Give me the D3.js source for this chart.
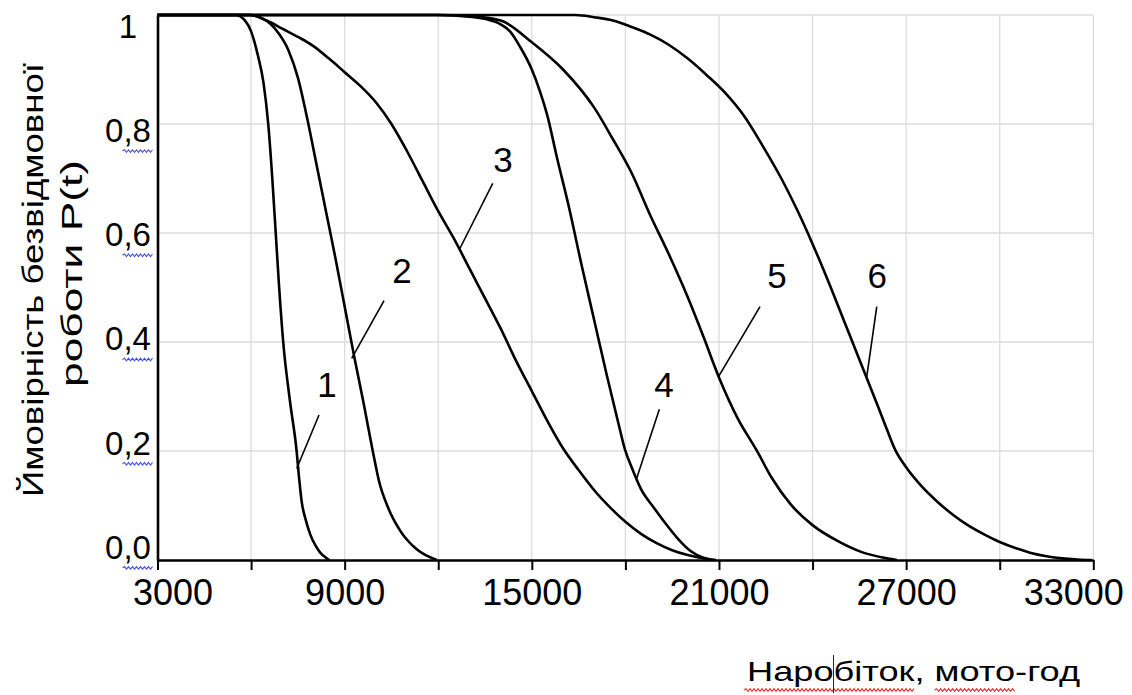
<!DOCTYPE html>
<html>
<head>
<meta charset="utf-8">
<script src="https://cdn.jsdelivr.net/npm/d3@7"></script>
<style>
  body { margin: 0; background: #fff; }
  text { font-family: "Liberation Sans", Arial, sans-serif; fill: #000; }
</style>
</head>
<body>
<div id="chart"></div>
<script>
// P(t) curves: [hours, probability]
const curve1 = [[3000,1],[5500,1],[5800,0.99],[6000,0.97],[6200,0.93],[6400,0.875],[6550,0.80],[6680,0.70],[6790,0.60],[6900,0.50],[7030,0.40],[7250,0.29],[7460,0.20],[7540,0.15],[7620,0.108],[7750,0.074],[7890,0.048],[8050,0.028],[8210,0.014],[8380,0.005],[8510,0]]
const curve2 = [[3000,1],[5950,1],[6300,0.995],[6600,0.985],[6900,0.965],[7200,0.935],[7500,0.885],[7800,0.81],[8100,0.725],[8400,0.64],[8700,0.555],[9000,0.465],[9300,0.375],[9600,0.29],[9900,0.2],[10100,0.145],[10400,0.095],[10800,0.052],[11300,0.02],[11950,0]]
const curve3 = [[3000,1],[6000,1],[6500,0.99],[7000,0.975],[7500,0.96],[8000,0.943],[8500,0.92],[9000,0.895],[9500,0.87],[10000,0.84],[10500,0.80],[11000,0.75],[11500,0.695],[12000,0.64],[12500,0.59],[13000,0.535],[13500,0.48],[14000,0.425],[14500,0.365],[15000,0.31],[15500,0.255],[16000,0.205],[16500,0.165],[17000,0.128],[17500,0.097],[18000,0.07],[18500,0.048],[19000,0.031],[19500,0.018],[20000,0.009],[20500,0.003],[20900,0]]
const curve4 = [[3000,1],[12000,1],[13000,0.997],[13500,0.993],[14000,0.983],[14300,0.97],[14620,0.942],[15000,0.9],[15260,0.86],[15500,0.815],[15800,0.74],[16200,0.645],[16600,0.54],[17000,0.44],[17400,0.34],[17800,0.245],[17990,0.202],[18200,0.17],[18500,0.13],[18900,0.097],[19300,0.066],[19700,0.038],[20100,0.016],[20500,0.004],[20750,0]]
const curve5 = [[3000,1],[12000,1],[13000,0.998],[14000,0.99],[15000,0.95],[16000,0.9],[17000,0.83],[17600,0.772],[18200,0.71],[18800,0.632],[19400,0.56],[20000,0.482],[20500,0.41],[21000,0.335],[21600,0.26],[22200,0.202],[22700,0.15],[23300,0.102],[24000,0.064],[24800,0.035],[25600,0.014],[26300,0.004],[26700,0]]
const curve6 = [[3000,1],[16400,1],[17000,0.996],[17600,0.99],[18200,0.978],[18800,0.964],[19400,0.945],[20000,0.92],[20600,0.89],[21200,0.857],[21800,0.815],[22400,0.76],[23000,0.7],[23500,0.643],[24000,0.58],[24500,0.512],[25000,0.44],[25500,0.368],[26000,0.296],[26300,0.252],[26650,0.202],[27000,0.17],[27500,0.135],[28000,0.107],[28500,0.083],[29000,0.063],[29500,0.047],[30000,0.033],[30500,0.022],[31000,0.013],[31500,0.007],[32000,0.003],[32500,0.001],[32950,0]]
const curves = [curve1, curve2, curve3, curve4, curve5, curve6]

// curve numbers with their leader lines (data units)
const curveNames = ["1", "2", "3", "4", "5", "6"]
const leaderFrom = [[7463,0.168],[9226,0.370],[12698,0.572],[18363,0.150],[20980,0.336],[25737,0.336]]
const leaderTo = [[8178,0.266],[10262,0.476],[13747,0.691],[19088,0.2765],[22316,0.465],[26058,0.465]]
const labelAt = [[8434,0.299],[10839,0.508],[14077,0.712],[19238,0.299],[22861,0.499],[26077,0.499]]

const xTicks = d3.range(3000, 33001, 3000)
const xLabelTicks = [3000, 9000, 15000, 21000, 27000, 33000]
const yTicks = [0, 0.2, 0.4, 0.6, 0.8, 1]
const yTickText = ["0,0", "0,2", "0,4", "0,6", "0,8", "1"]

const width = 1132
const height = 695

const x = d3.scaleLinear().domain([3000, 33000]).range([157.5, 1093.3])
const y = d3.scaleLinear().domain([0, 1]).range([560, 15])
// the value labels on the left sit on a slightly tighter spacing than the grid
const yLab = d3.scaleLinear().domain([0, 1]).range([547, 26])

const svg = d3.select("#chart").append("svg")
    .attr("width", width)
    .attr("height", height)

function wavy(x0, x1, yy) {
    let p = `M${x0},${yy}`
    let up = true
    for (let xx = x0 + 2; xx <= x1; xx += 2) {
        p += `L${xx},${yy + (up ? -1.3 : 1.3)}`
        up = !up
    }
    return p
}

// grid
svg.append("g")
    .selectAll("line")
    .data(xTicks.slice(1))
    .join("line")
    .attr("x1", d => x(d)).attr("x2", d => x(d))
    .attr("y1", y(0)).attr("y2", y(1))
    .attr("stroke", "#dcdcdc")
    .attr("stroke-width", 1.3)

svg.append("g")
    .selectAll("line")
    .data(yTicks.slice(1))
    .join("line")
    .attr("x1", x(3000)).attr("x2", x(33000))
    .attr("y1", d => y(d)).attr("y2", d => y(d))
    .attr("stroke", "#dcdcdc")
    .attr("stroke-width", 1.3)

// curves
const line = d3.line()
    .x(d => x(d[0]))
    .y(d => y(d[1]))
    .curve(d3.curveMonotoneX)

svg.append("g")
    .selectAll("path")
    .data(curves)
    .join("path")
    .attr("d", line)
    .attr("fill", "none")
    .attr("stroke", "#000")
    .attr("stroke-width", 2.6)
    .attr("stroke-linejoin", "round")

// leader lines and numbers
svg.append("g")
    .selectAll("line")
    .data(curveNames)
    .join("line")
    .attr("x1", (d, i) => x(leaderFrom[i][0]))
    .attr("y1", (d, i) => y(leaderFrom[i][1]))
    .attr("x2", (d, i) => x(leaderTo[i][0]))
    .attr("y2", (d, i) => y(leaderTo[i][1]))
    .attr("stroke", "#000")
    .attr("stroke-width", 1.6)

svg.append("g")
    .selectAll("text")
    .data(curveNames)
    .join("text")
    .attr("x", (d, i) => x(labelAt[i][0]))
    .attr("y", (d, i) => y(labelAt[i][1]))
    .attr("text-anchor", "middle")
    .attr("font-size", 35)
    .text(d => d)

// x axis
svg.append("g")
    .attr("transform", `translate(0,${y(0)})`)
    .call(d3.axisBottom(x).tickValues(xTicks).tickSize(10).tickSizeOuter(0)
        .tickFormat(d => xLabelTicks.includes(d) ? d : ""))
    .attr("font-size", 36)
    .attr("font-family", "Liberation Sans, Arial, sans-serif")
    .call(g => g.select(".domain").attr("stroke", "#000").attr("stroke-width", 2.6))
    .call(g => g.selectAll(".tick line").attr("stroke", "#000").attr("stroke-width", 2))
    .call(g => g.selectAll(".tick text")
        .attr("fill", "#000")
        .attr("y", 19)
        .attr("dx", d => d === 3000 ? 15 : d === 33000 ? -20 : 0))

// y axis line
svg.append("g")
    .attr("transform", `translate(${x(3000)},0)`)
    .call(d3.axisLeft(y).tickValues([]).tickSizeOuter(0))
    .call(g => g.select(".domain").attr("stroke", "#000").attr("stroke-width", 2.6))

const yLabels = svg.append("g")
    .selectAll("text")
    .data(yTicks)
    .join("text")
    .attr("x", 128)
    .attr("y", d => yLab(d))
    .attr("dy", "0.36em")
    .attr("text-anchor", "middle")
    .attr("font-size", 33)
    .text((d, i) => yTickText[i])

// spell-check squiggles under the comma labels
yLabels.filter(d => d < 1).each(function () {
    const b = this.getBBox()
    svg.append("path")
        .attr("d", wavy(b.x + b.width * 0.38, b.x + b.width + 3, b.y + b.height + 2))
        .attr("fill", "none")
        .attr("stroke", "#3f51e6")
        .attr("stroke-width", 1.1)
})

// axis titles
svg.append("text")
    .attr("transform", "translate(43,280) rotate(-90)")
    .attr("text-anchor", "middle")
    .attr("font-size", 29)
    .attr("textLength", 434)
    .attr("lengthAdjust", "spacingAndGlyphs")
    .text("Ймовірність безвідмовної")

svg.append("text")
    .attr("transform", "translate(82,273.5) rotate(-90)")
    .attr("text-anchor", "middle")
    .attr("font-size", 29)
    .attr("textLength", 227)
    .attr("lengthAdjust", "spacingAndGlyphs")
    .text("роботи P(t)")

const xTitleText = "Наробіток, мото-год"
const xTitle = svg.append("text")
    .attr("x", 747)
    .attr("y", 681)
    .attr("font-size", 28)
    .text(xTitleText)
const natural = xTitle.node().getComputedTextLength()
const sub = (a, b) => xTitle.node().getSubStringLength(a, b)
const k = 333 / natural
const w1 = sub(0, 9) * k
const w2s = sub(0, 11) * k
const w2 = sub(11, 4) * k
const caret = sub(0, 4) * k
xTitle.attr("textLength", 333).attr("lengthAdjust", "spacingAndGlyphs")

svg.append("path")
    .attr("d", wavy(747 - 3, 747 + w1, 690))
    .attr("fill", "none").attr("stroke", "#e03030").attr("stroke-width", 1.1)
svg.append("path")
    .attr("d", wavy(747 + w2s, 747 + w2s + w2, 690))
    .attr("fill", "none").attr("stroke", "#e03030").attr("stroke-width", 1.1)
svg.append("line")
    .attr("x1", 747 + caret).attr("x2", 747 + caret)
    .attr("y1", 655).attr("y2", 693)
    .attr("stroke", "#222").attr("stroke-width", 1)
</script>
</body>
</html>
